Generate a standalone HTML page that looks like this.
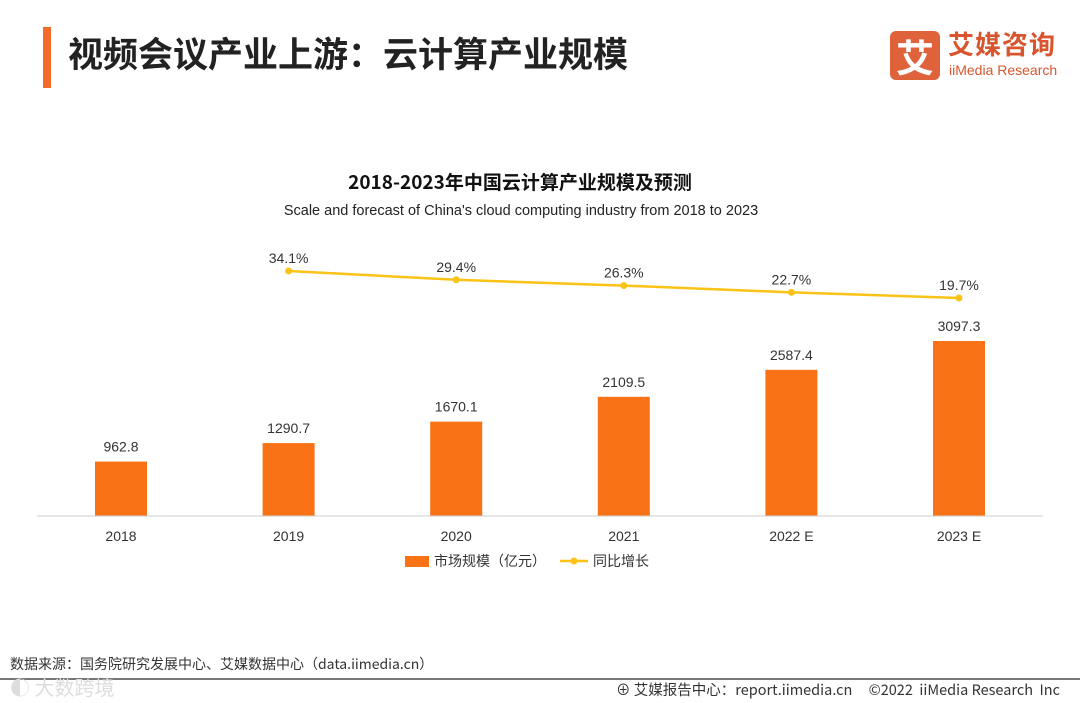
<!DOCTYPE html>
<html><head><meta charset="utf-8"><style>
body{margin:0;width:1080px;height:703px;background:#fff;overflow:hidden;font-family:"Liberation Sans","Noto Sans CJK SC",sans-serif;position:relative}
.abs{position:absolute}
</style></head><body>
<div class="abs" style="left:43px;top:27px;width:8px;height:61px;background:#f26b2b"></div>
<div class="abs" style="left:68px;top:29px;font-size:35px;font-weight:bold;color:#222;font-family:'Noto Sans CJK SC',sans-serif;line-height:48px">视频会议产业上游：云计算产业规模</div>
<div class="abs" style="left:890px;top:31px;width:170px;height:50px">
 <div style="position:absolute;left:0;top:0;width:50px;height:49px;background:#e0623a;border-radius:6px;color:#fff;font-size:38px;line-height:49px;text-align:center;font-weight:bold;font-family:'Noto Sans CJK SC',sans-serif">艾</div>
 <div style="position:absolute;left:58px;top:-4px;color:#d9552e;font-size:26px;font-weight:bold;font-family:'Noto Sans CJK SC',sans-serif;letter-spacing:1px;line-height:34px">艾媒咨询</div>
 <div style="position:absolute;left:59px;top:31px;color:#d9552e;font-size:14px;line-height:16px">iiMedia Research</div>
</div>
<div class="abs" style="left:0;width:1040px;top:170px;text-align:center;font-size:19px;font-weight:bold;color:#111;font-family:'Noto Sans CJK SC',sans-serif;line-height:24px">2018-2023年中国云计算产业规模及预测</div>
<div class="abs" style="left:0;width:1042px;top:203px;text-align:center;font-size:14.5px;color:#222">Scale and forecast of China's cloud computing industry from 2018 to 2023</div>
<svg class="abs" style="left:0;top:0" width="1080" height="703" id="chart"></svg>
<div class="abs" style="left:10px;top:655px;font-size:14px;color:#333;font-family:'Noto Sans CJK SC',sans-serif;line-height:18px">数据来源：国务院研究发展中心、艾媒数据中心（data.iimedia.cn）</div>
<div class="abs" style="left:0;top:678px;width:1080px;height:2px;background:#777"></div>
<div class="abs" style="left:10px;top:672px;font-size:20px;color:#ddd;font-family:'Noto Sans CJK SC',sans-serif">◐ 大数跨境</div>
<div class="abs" style="left:616px;top:681px;font-size:14.5px;color:#333;font-family:'Noto Sans CJK SC',sans-serif;line-height:18px">⊕ 艾媒报告中心：report.iimedia.cn &nbsp;&nbsp;&nbsp; ©2022 &nbsp;iiMedia Research &nbsp;Inc</div>
<script>
const categories=["2018","2019","2020","2021","2022 E","2023 E"];
const marketSize=[962.8,1290.7,1670.1,2109.5,2587.4,3097.3];
const growth=[null,34.1,29.4,26.3,22.7,19.7];
const growthLabels=["","34.1%","29.4%","26.3%","22.7%","19.7%"];
const svg=document.getElementById('chart');const NS='http://www.w3.org/2000/svg';
const x=i=>121+i*167.6;
const yb=v=>516-v*0.0565;
const yl=v=>334.9-v*1.875;
function mk(t,a,txt){const e=document.createElementNS(NS,t);for(const k in a)e.setAttribute(k,a[k]);if(txt!=null)e.textContent=txt;svg.appendChild(e);return e;}
categories.forEach((c,i)=>{
 let r=mk('rect',{x:x(i)-26,y:yb(marketSize[i]),width:52,height:516-yb(marketSize[i]),fill:'#fa7216'});
 
 
 let t=mk('text',{x:x(i),y:yb(marketSize[i])-10,'text-anchor':'middle','font-size':14,fill:'#333','font-family':'Liberation Sans'},marketSize[i].toFixed(1));
 
 
 let l=mk('text',{x:x(i),y:541,'text-anchor':'middle','font-size':14,fill:'#333','font-family':'Liberation Sans'},c);
 
 
});
let ax=mk('line',{x1:37,x2:1043,y1:516,y2:516,stroke:'#ccc','stroke-width':1});


let pts=[];growth.forEach((g,i)=>{if(g!=null)pts.push(x(i)+','+yl(g));});
let pl=mk('polyline',{points:pts.join(' '),fill:'none',stroke:'#fbc316','stroke-width':2.5});


growth.forEach((g,i)=>{if(g==null)return;
 let c=mk('circle',{cx:x(i),cy:yl(g),r:3.5,fill:'#fbc316'});
 
 
 let t=mk('text',{x:x(i),y:yl(g)-8,'text-anchor':'middle','font-size':14,fill:'#333','font-family':'Liberation Sans'},growthLabels[i]);
 
 
});
let lr=mk('rect',{x:405,y:556,width:24,height:11,fill:'#fa7216'});


let lt=mk('text',{x:434,y:566,'font-size':14,fill:'#333','font-family':'Noto Sans CJK SC'},'市场规模（亿元）');


let ll=mk('line',{x1:560,x2:588,y1:561,y2:561,stroke:'#fbc316','stroke-width':2.5});


let lc=mk('circle',{cx:574,cy:561,r:3.5,fill:'#fbc316'});


let lt2=mk('text',{x:593,y:566,'font-size':14,fill:'#333','font-family':'Noto Sans CJK SC'},'同比增长');


</script>
</body></html>
